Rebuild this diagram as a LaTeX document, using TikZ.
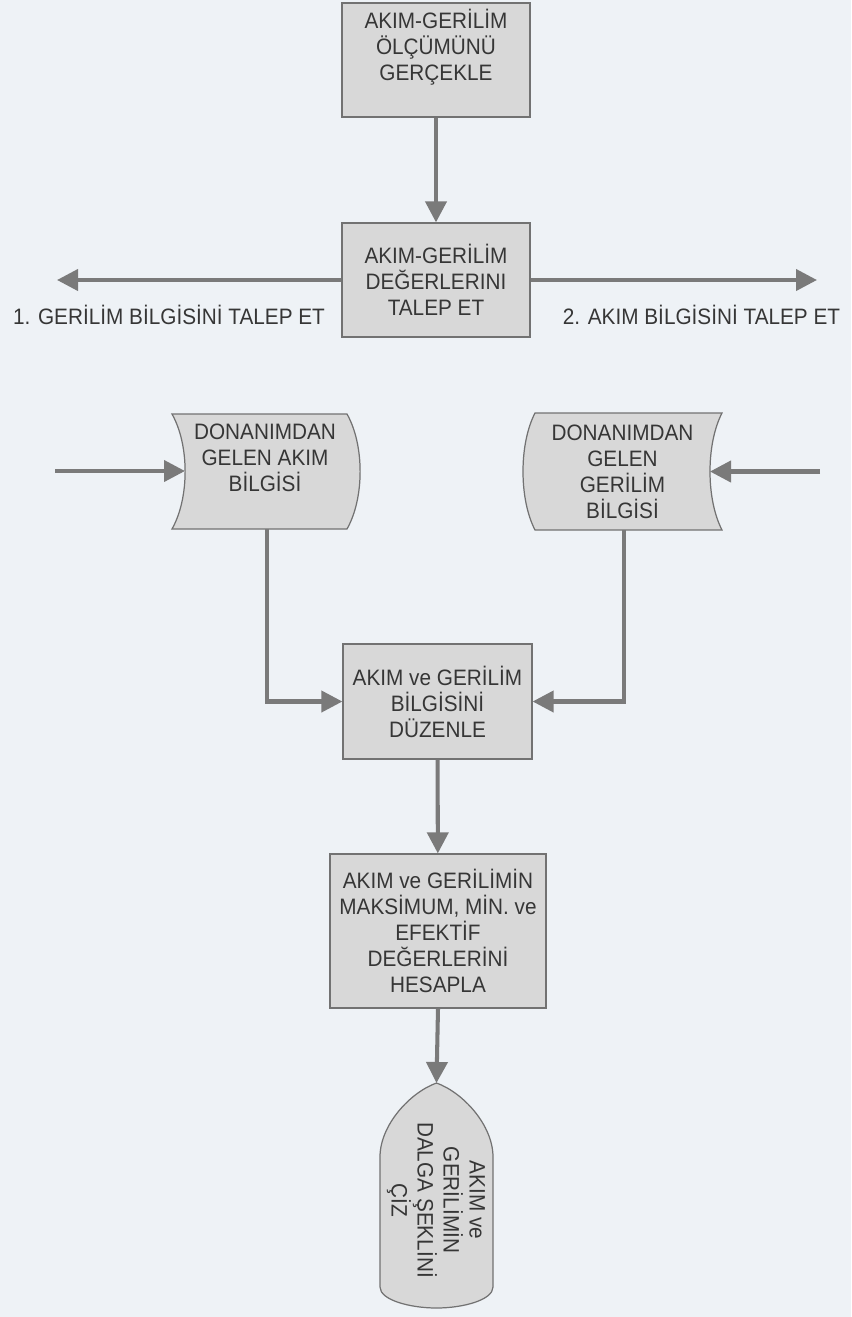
\documentclass[tikz,border=0pt]{standalone}
\usepackage{fontspec}
\setmainfont{Liberation Sans}[FakeStretch=0.93]
\usetikzlibrary{arrows.meta}
\definecolor{zemin}{HTML}{EEF2F6}
\definecolor{dolgu}{HTML}{D8D8D8}
\definecolor{kenar}{HTML}{727272}
\definecolor{ok}{HTML}{7A7A7A}
\definecolor{yazi}{HTML}{363636}
\tikzset{
	kutu/.style={draw=kenar,fill=dolgu,line width=0.7pt,align=center,inner sep=0pt,text=yazi,font=\fontsize{12.7}{14.8}\selectfont},
	yazilar/.style={align=center,inner sep=0pt,text=yazi,font=\fontsize{12.7}{14.8}\selectfont},
	serit/.style={draw=kenar,fill=dolgu,line width=0.7pt},
	akis/.style={draw=ok,line width=2.3pt,-{Triangle[length=0.42cm,width=0.42cm]}}
}
\begin{document}
\begin{tikzpicture}
	\fill[zemin] (0,0) rectangle (17.02,-26.34);
	\useasboundingbox (0,0) rectangle (17.02,-26.34);
	% kutular
	\node[kutu,minimum width=3.76cm,minimum height=2.28cm] (olcum) at (8.72,-1.2) {};
	\node[yazilar] (olcumyazi) at (8.72,-0.95) {AKIM-GERİLİM\\ÖLÇÜMÜNÜ\\GERÇEKLE};
	\node[kutu,minimum width=3.76cm,minimum height=2.28cm] (talep) at (8.72,-5.6) {AKIM-GERİLİM\\DEĞERLERINI\\TALEP ET};
	\node[yazilar] (gerilimtalep) at (3.38,-6.3) {1. GERİLİM BİLGİSİNİ TALEP ET};
	\node[yazilar] (akimtalep) at (14.03,-6.3) {2. AKIM BİLGİSİNİ TALEP ET};
	\coordinate (soluc) at (1.14,-5.6);
	\coordinate (saguc) at (16.34,-5.6);
	\draw[akis] (olcum) -- (talep);
	\draw[akis] (talep.west) -- (soluc);
	\draw[akis] (talep.east) -- (saguc);
	% veri seritleri
	\filldraw[serit] (3.44,-8.28) -- (6.94,-8.28) .. controls (7.29,-8.9) and (7.29,-9.96) .. (6.94,-10.58)
		-- (3.44,-10.58) .. controls (3.79,-9.96) and (3.79,-8.9) .. (3.44,-8.28) -- cycle;
	\filldraw[serit] (10.7,-8.26) -- (14.44,-8.26) .. controls (14.12,-8.88) and (14.12,-9.98) .. (14.44,-10.6)
		-- (10.7,-10.6) .. controls (10.38,-9.98) and (10.38,-8.88) .. (10.7,-8.26) -- cycle;
	\node[yazilar] (akimbilgi) at (5.3,-9.16) {DONANIMDAN\\GELEN AKIM\\BİLGİSİ};
	\node[yazilar] (gerilimbilgi) at (12.45,-9.44) {DONANIMDAN\\GELEN\\GERİLİM\\BİLGİSİ};
	\coordinate (solkaynak) at (1.1,-9.42);
	\coordinate (akimgiris) at (3.70,-9.42);
	\coordinate (sagkaynak) at (16.4,-9.43);
	\coordinate (gerilimgiris) at (14.2,-9.43);
	\coordinate (akimcikis) at (5.34,-10.58);
	\coordinate (gerilimcikis) at (12.48,-10.6);
	\draw[akis] (solkaynak) -- (akimgiris);
	\draw[akis] (sagkaynak) -- (gerilimgiris);
	% duzenle ve hesapla
	\node[kutu,minimum width=3.78cm,minimum height=2.3cm] (duzenle) at (8.75,-14.03) {AKIM ve GERİLİM\\BİLGİSİNİ\\DÜZENLE};
	\node[kutu,minimum width=4.32cm,minimum height=3.08cm] (hesapla) at (8.76,-18.62) {AKIM ve GERİLİMİN\\MAKSİMUM, MİN. ve\\EFEKTİF\\DEĞERLERİNİ\\HESAPLA};
	\draw[akis] (akimcikis) |- (duzenle.west);
	\draw[akis] (gerilimcikis) |- (duzenle.east);
	\draw[akis] (duzenle) -- (hesapla);
	% ekran
	\filldraw[serit] (8.73,-21.66) .. controls (8.2,-21.85) and (7.6,-22.5) .. (7.6,-23.14) -- (7.6,-25.74)
		.. controls (7.6,-26.0) and (8.2,-26.16) .. (8.73,-26.16) .. controls (9.26,-26.16) and (9.86,-26.0) .. (9.86,-25.74)
		-- (9.86,-23.14) .. controls (9.86,-22.5) and (9.26,-21.85) .. (8.73,-21.66) -- cycle;
	\coordinate (cizust) at (8.73,-21.66);
	\node[yazilar,rotate=-90] (ciz) at (8.72,-24.0) {AKIM ve\\GERİLİMİN\\DALGA ŞEKLİNİ\\ÇİZ};
	\draw[akis] (hesapla.south) -- (cizust);
\end{tikzpicture}
\end{document}
